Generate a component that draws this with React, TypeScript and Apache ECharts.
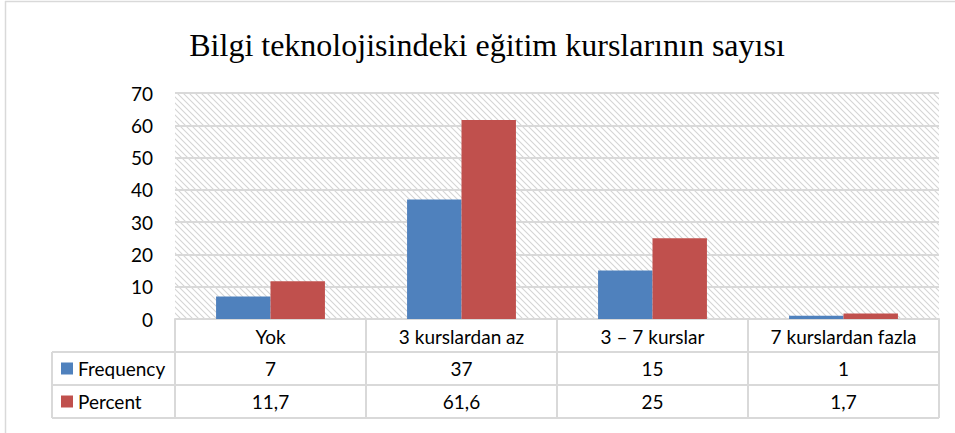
import React, { useEffect, useRef } from "react";
import * as echarts from "echarts";

const title = "Bilgi teknolojisindeki eğitim kurslarının sayısı";
const categories = ["Yok", "3 kurslardan az", "3 – 7 kurslar", "7 kurslardan fazla"];
const frequency = [7, 37, 15, 1];
const percent = [11.7, 61.6, 25, 1.7];
const seriesNames = ["Frequency", "Percent"];
const seriesColors = ["#4F81BD", "#C0504D"];
const yTicks = { min: 0, max: 70, interval: 10 };

const FONT = "Lato, 'Liberation Sans', sans-serif";
const LINE = "#d9d9d9";

const hatchSvg =
  "data:image/svg+xml;utf8," +
  encodeURIComponent(
    "<svg xmlns='http://www.w3.org/2000/svg' width='6' height='6'>" +
      "<path d='M-1,-1 L7,7 M-1,5 L1,7 M5,-1 L7,1' stroke='#d4d4d4' stroke-width='1.1'/>" +
      "</svg>"
  );

const fmt = (v: number) => String(v).replace(".", ",");

export default function App() {
  const ref = useRef<HTMLDivElement>(null);
  useEffect(() => {
    if (!ref.current) return;
    const chart = echarts.init(ref.current, undefined, { renderer: "svg" });
    const gridLeft = 175;
    const gridRight = 16;
    const gridTop = 93;
    const gridBottom = 114;
    const option: any = {
      animation: false,
      backgroundColor: "#ffffff",
      title: {
        text: title,
        left: 482,
        top: 24,
        textAlign: "center",
        textStyle: {
          fontFamily: "'Liberation Serif', 'Times New Roman', serif",
          fontSize: 32,
          fontWeight: "normal",
          color: "#000",
        },
      },
      grid: {
        left: gridLeft,
        right: gridRight,
        top: gridTop,
        bottom: gridBottom,
        show: true,
        borderWidth: 0,
        backgroundColor: { image: hatchSvg, repeat: "repeat" },
      },
      xAxis: {
        type: "category",
        data: categories,
        axisLine: { show: true, lineStyle: { color: LINE, width: 2 } },
        axisTick: { show: false },
        axisLabel: {
          fontFamily: FONT,
          fontSize: 19,
          color: "#000",
          margin: 8,
        },
      },
      yAxis: {
        type: "value",
        min: yTicks.min,
        max: yTicks.max,
        interval: yTicks.interval,
        axisLine: { show: false },
        axisTick: { show: false },
        axisLabel: { fontFamily: FONT, fontSize: 19, color: "#000", margin: 22 },
        splitLine: { lineStyle: { color: LINE, width: 2 } },
      },
      series: [
        {
          name: seriesNames[0],
          type: "bar",
          data: frequency,
          itemStyle: { color: seriesColors[0] },
          barGap: "0%",
          barCategoryGap: "43%",
        },
        {
          name: seriesNames[1],
          type: "bar",
          data: percent,
          itemStyle: { color: seriesColors[1] },
          barGap: "0%",
          barCategoryGap: "43%",
        },
      ],
    };
    chart.setOption(option);

    const W = 955;
    const H = 433;
    const x0 = gridLeft;
    const x1 = W - gridRight;
    const axisY = H - gridBottom;
    const rowH = 33;
    const tableLeft = 52;
    const colW = (x1 - x0) / categories.length;
    const els: any[] = [];
    const ls = { stroke: LINE, lineWidth: 2 };
    els.push({ type: "line", shape: { x1: 5, y1: 1.5, x2: W, y2: 1.5 }, style: { stroke: "#d9d9d9", lineWidth: 1.5 } });
    els.push({ type: "line", shape: { x1: 5.5, y1: 1, x2: 5.5, y2: H }, style: { stroke: "#d9d9d9", lineWidth: 1.5 } });
    for (let r = 1; r <= 3; r++) {
      const y = axisY + rowH * r;
      els.push({ type: "line", shape: { x1: tableLeft, y1: y, x2: x1, y2: y }, style: ls });
    }
    for (let c = 0; c <= categories.length; c++) {
      const x = x0 + colW * c;
      els.push({ type: "line", shape: { x1: x, y1: axisY, x2: x, y2: axisY + rowH * 3 }, style: ls });
    }
    els.push({ type: "line", shape: { x1: tableLeft, y1: axisY + rowH, x2: tableLeft, y2: axisY + rowH * 3 }, style: ls });
    const rows = [frequency, percent];
    rows.forEach((vals, r) => {
      const cy = axisY + rowH * (r + 1) + rowH / 2;
      els.push({
        type: "rect",
        shape: { x: 61, y: cy - 6, width: 12, height: 12 },
        style: { fill: seriesColors[r] },
      });
      els.push({
        type: "text",
        x: 78,
        y: cy,
        style: { text: seriesNames[r], font: `19px ${FONT}`, fill: "#000", textVerticalAlign: "middle" },
      });
      vals.forEach((v, c) => {
        const px = chart.convertToPixel({ xAxisIndex: 0 }, c) as number;
        els.push({
          type: "text",
          x: px,
          y: cy,
          style: {
            text: fmt(v),
            font: `19px ${FONT}`,
            fill: "#000",
            textAlign: "center",
            textVerticalAlign: "middle",
          },
        });
      });
    });
    chart.setOption({ graphic: { elements: els } });
    return () => chart.dispose();
  }, []);
  return (
    <div
      ref={ref}
      style={{ position: "absolute", left: 0, top: 0, width: 955, height: 433 }}
    />
  );
}
